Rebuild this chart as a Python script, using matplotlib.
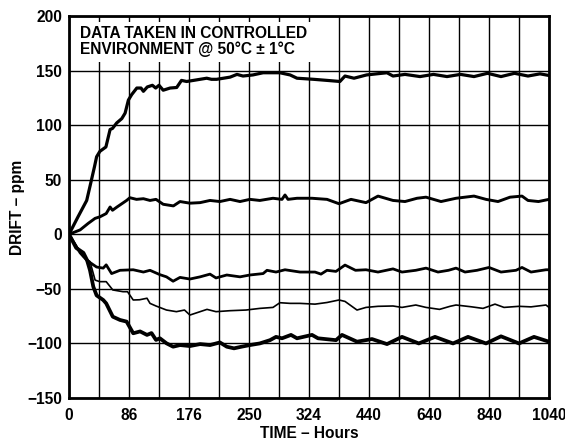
import matplotlib
matplotlib.use("Agg")
import matplotlib.pyplot as plt
from matplotlib.patches import Rectangle
from matplotlib.ticker import FixedLocator, NullFormatter

plt.rcParams['font.family'] = ['Liberation Sans', 'DejaVu Sans']
plt.rcParams['font.weight'] = 'bold'

# x tick labels (hours) placed on the evenly spaced major grid lines
x_tick_labels = ["0", "86", "176", "250", "324", "440", "640", "840", "1040"]
y_ticks = [-150, -100, -50, 0, 50, 100, 150, 200]

# x positions are in grid divisions (0..16); every 2nd division carries a label
a_t = [0, 0.3, 0.59, 0.7, 0.85, 0.92, 1.03, 1.23, 1.3, 1.37, 1.45, 1.59, 1.76, 1.87, 1.98, 2.09, 2.26, 2.4, 2.48,
       2.61, 2.78, 2.89, 3.0, 3.14, 3.37, 3.59, 3.75, 3.92, 4.15, 4.37, 4.59, 4.75, 4.92, 5.15, 5.37, 5.6, 5.8,
       6.13, 6.47, 7.03, 7.37, 7.6, 8.15, 8.6, 9.03, 9.2, 9.5, 9.92, 10.25, 10.6, 10.8, 11.2, 11.7, 12.15, 12.6,
       13.05, 13.5, 13.95, 14.4, 14.85, 15.3, 15.7, 16]
a_v = [0, 16, 31, 44, 62, 71, 76, 80, 88, 96, 97, 102, 106, 111, 123, 128, 134, 134, 131,
       135, 136.5, 134, 136.5, 132, 134, 134.5, 141, 140, 141, 142, 143, 142, 142, 143, 144, 146.5, 145,
       146, 148, 148, 146, 143, 142, 141, 140, 145, 143, 146, 147, 148, 145, 146.5, 144.5, 146.5, 144.5,
       146.5, 144.5, 147.5, 144.5, 147.5, 145, 147, 145.5]

b_t = [0, 0.37, 0.64, 0.87, 1.03, 1.24, 1.37, 1.45, 1.6, 1.92, 2.03, 2.25, 2.48, 2.7, 2.9, 3.14, 3.48, 3.7,
       4.03, 4.37, 4.7, 5.03, 5.37, 5.7, 6.03, 6.36, 6.8, 7.1, 7.2, 7.3, 7.6, 8.1, 8.6, 9.0, 9.4, 9.9, 10.3,
       10.8, 11.2, 11.6, 11.9, 12.4, 12.9, 13.5, 13.9, 14.3, 14.7, 15.1, 15.3, 15.65, 16]
b_v = [0, 4, 10, 14.6, 16, 19, 25, 22, 25, 31, 33.5, 32, 32.6, 31, 32, 27.5, 26, 30,
       28.5, 29, 31, 30, 32, 30, 32, 31, 33, 32, 36, 32, 33, 33, 32, 28, 32, 29, 35,
       31, 30, 33, 34, 30, 33, 35, 32, 30, 34, 35, 31, 30, 32]

c_t = [0, 0.37, 0.6, 0.92, 1.14, 1.24, 1.42, 1.7, 2.14, 2.48, 2.7, 3.03, 3.25, 3.47, 3.7, 4.03, 4.37, 4.7,
       4.9, 5.26, 5.7, 6.03, 6.47, 6.6, 6.9, 7.2, 7.7, 8.2, 8.4, 8.6, 8.9, 9.2, 9.55, 9.9, 10.3, 10.8, 11.1,
       11.56, 11.9, 12.3, 12.65, 12.9, 13.2, 13.6, 14.0, 14.4, 14.9, 15.1, 15.4, 15.9, 16]
c_v = [0, -17, -24, -30, -31, -28, -36, -33, -32.5, -34.6, -33, -37, -39, -43, -39.5, -41, -39, -36.5,
       -40, -37.3, -39, -37.3, -36, -33, -34.6, -32.5, -34.6, -34.6, -36.5, -33, -34, -28.2, -33, -32.5,
       -34.6, -31.7, -34.6, -33, -31, -34.6, -33, -31, -34.6, -33, -30.4, -34.6, -33, -30.4, -34.6, -32.5,
       -32.5]

d_t = [0, 0.37, 0.48, 0.7, 0.87, 1.03, 1.24, 1.46, 1.8, 1.95, 2.14, 2.35, 2.6, 2.7, 2.9, 3.25, 3.58, 3.85,
       4.03, 4.37, 4.6, 4.9, 5.37, 5.9, 6.36, 6.8, 7.03, 7.37, 7.7, 8.2, 8.6, 9.0, 9.2, 9.6, 9.9, 10.3, 10.8,
       11.1, 11.56, 11.9, 12.35, 12.7, 12.9, 13.4, 13.8, 14.2, 14.5, 15.0, 15.4, 15.9, 16]
d_v = [0, -16, -20.5, -25, -42, -43.4, -43.4, -51, -52.6, -52.6, -60.2, -60, -58.6, -63.3, -65.7, -69.4,
       -70.9, -69.4, -74, -70.9, -68.8, -70.9, -70, -69.4, -67.9, -67, -62.7, -63.3, -63.3, -64, -62.5,
       -60.2, -61.5, -69.4, -67, -66, -65.7, -67, -64.8, -67, -68.8, -66, -64.8, -66.4, -67.9, -64, -67,
       -66, -66.5, -64.8, -67]

e_t = [0, 0.24, 0.48, 0.6, 0.7, 0.81, 0.92, 1.14, 1.24, 1.46, 1.7, 1.92, 2.14, 2.37, 2.6, 2.75, 2.9, 3.03,
       3.25, 3.47, 3.7, 4.03, 4.37, 4.7, 5.03, 5.26, 5.5, 5.75, 6.03, 6.36, 6.7, 6.9, 7.1, 7.4, 7.6, 8.1,
       8.3, 8.9, 9.1, 9.6, 10.1, 10.6, 11.1, 11.66, 12.2, 12.8, 13.3, 13.9, 14.4, 15.0, 15.5, 16]
e_v = [0, -12.5, -17, -23.6, -33, -48, -56, -60.2, -63.3, -75.5, -78.5, -80, -90.7, -89, -92.2, -90.5,
       -96.8, -95.3, -99.9, -103, -101.5, -102.4, -100.6, -101.5, -99.1, -103, -104.5, -103, -101.5, -100,
       -97, -94, -95.3, -92.2, -95.3, -92.2, -95.3, -97, -92.2, -98.4, -96, -100.6, -94, -100, -94, -100,
       -94, -100, -93.5, -100, -94, -98.4]

FS = 11.2

fig = plt.figure(figsize=(5.65, 4.42), dpi=100)
ax = fig.add_axes([69 / 565, 44 / 442, 480 / 565, 382 / 442])

ax.set_xlim(0, 16)
ax.set_ylim(-150, 200)

ax.xaxis.set_major_locator(FixedLocator(list(range(0, 17, 2))))
ax.xaxis.set_minor_locator(FixedLocator(list(range(1, 17, 2))))
ax.set_xticklabels(x_tick_labels)
ax.xaxis.set_minor_formatter(NullFormatter())
ax.set_yticks(y_ticks)
ax.set_yticklabels([("\u2212" + str(-v)) if v < 0 else str(v) for v in y_ticks])

ax.grid(True, which='both', color='black', linewidth=1.0)
ax.tick_params(which='both', length=0, labelsize=FS)
ax.tick_params(axis='x', pad=7)
ax.tick_params(axis='y', pad=5)
for s in ax.spines.values():
    s.set_linewidth(2.0)
    s.set_zorder(5)

ax.plot(a_t, a_v, color='black', lw=2.3, zorder=3)
ax.plot(b_t, b_v, color='black', lw=2.1, zorder=3)
ax.plot(c_t, c_v, color='black', lw=2.0, zorder=3)
ax.plot(d_t, d_v, color='black', lw=1.2, zorder=3)
ax.plot(e_t, e_v, color='black', lw=2.7, zorder=3)

ax.add_patch(Rectangle((0.05, 158), 8.35, 36.5, facecolor='white', edgecolor='none', zorder=1.6))
ax.text(0.37, 190.5, "DATA TAKEN IN CONTROLLED\nENVIRONMENT @ 50\u00b0C \u00b1 1\u00b0C",
        fontsize=FS, fontweight='bold', va='top', ha='left', linespacing=1.02, zorder=4)

ax.set_xlabel("TIME \u2013 Hours", fontsize=FS, fontweight='bold')
ax.set_ylabel("DRIFT \u2013 ppm", fontsize=FS, fontweight='bold')
ax.xaxis.set_label_coords(0.5, -0.072)
ax.yaxis.set_label_coords(-0.107, 0.5)
ax.yaxis.label.set_va('center')

fig.savefig("out.png", dpi=100)
